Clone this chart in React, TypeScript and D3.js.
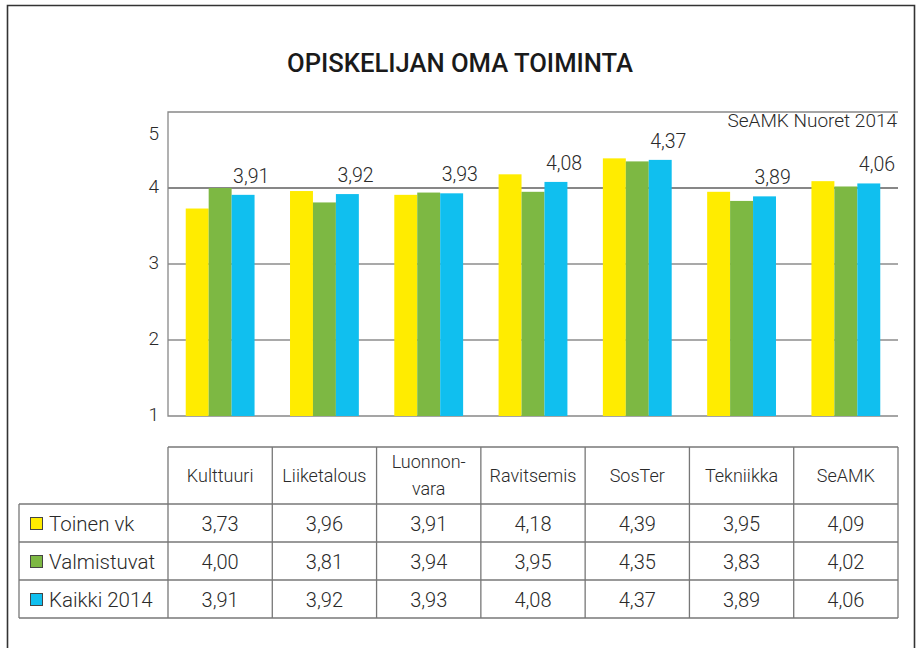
import { useRef, useEffect } from "react";
import * as d3 from "d3";

const TITLE = "OPISKELIJAN OMA TOIMINTA";
const SOURCE = "SeAMK Nuoret 2014";
const CATEGORIES = ["Kulttuuri", "Liiketalous", "Luonnon-\nvara", "Ravitsemis", "SosTer", "Tekniikka", "SeAMK"];
const SERIES = ["Toinen vk", "Valmistuvat", "Kaikki 2014"];
const TOINEN_VK = [3.73, 3.96, 3.91, 4.18, 4.39, 3.95, 4.09];
const VALMISTUVAT = [4.0, 3.81, 3.94, 3.95, 4.35, 3.83, 4.02];
const KAIKKI_2014 = [3.91, 3.92, 3.93, 4.08, 4.37, 3.89, 4.06];
const Y_TICKS = [1, 2, 3, 4, 5];

const COLORS = ["#FFEC00", "#7DB843", "#10BFEF"];
const FONT = "Roboto, 'Noto Sans', sans-serif";
const TXT = "#2a2a2a";
const W = 918;
const H = 648;

export default function App() {
  const ref = useRef<HTMLDivElement>(null);

  useEffect(() => {
    document.body.style.margin = "0";
    if (!ref.current) return;
    const container = ref.current;
    container.innerHTML = "";

    const svg = d3.select(container).append("svg")
      .attr("width", W).attr("height", H)
      .style("display", "block")
      .attr("font-family", FONT)
      .attr("font-weight", 300);

    svg.append("rect").attr("width", W).attr("height", H).attr("fill", "#fff");

    // ulkokehys
    svg.append("path")
      .attr("d", `M7.5,${H} V5.5 H914.5 V${H}`)
      .attr("fill", "none").attr("stroke", "#333").attr("stroke-width", 1.6);

    // otsikko
    svg.append("text")
      .attr("x", 287).attr("y", 72)
      .attr("textLength", 346).attr("lengthAdjust", "spacingAndGlyphs")
      .attr("font-size", "26px").attr("font-weight", 500).attr("fill", "#1a1a1a")
      .text(TITLE);

    const mg = { l: 168, r: 898, t: 112, b: 416 };
    const seriesData = [TOINEN_VK, VALMISTUVAT, KAIKKI_2014];

    const x0 = d3.scaleBand<string>().domain(CATEGORIES).range([mg.l, mg.r]);
    const bw = x0.bandwidth();
    const inset = bw * 0.17;
    const x1 = d3.scaleBand<string>().domain(SERIES).range([inset, bw - inset]);
    const y = d3.scaleLinear().domain([1, 5]).range([mg.b, mg.t]);
    const fmt = (v: number) => d3.format(".2f")(v).replace(".", ",");

    // apuviivat
    Y_TICKS.filter((t) => t > 1 && t < 5).forEach((t) => {
      svg.append("line")
        .attr("x1", mg.l).attr("x2", mg.r)
        .attr("y1", y(t)).attr("y2", y(t))
        .attr("stroke", t === 4 ? "#111" : "#555").attr("stroke-width", 1.2);
    });

    // ylä- ja vasen reuna, x-akseli
    svg.append("path")
      .attr("d", `M${mg.r},${y(5)} H${mg.l} V${y(1)} H${mg.r}`)
      .attr("fill", "none").attr("stroke", "#888").attr("stroke-width", 1.3);

    // y-akselin numerot
    Y_TICKS.forEach((t) => {
      svg.append("text")
        .attr("x", 159).attr("y", t === 5 ? y(t) + 28 : y(t) + 5)
        .attr("text-anchor", "end")
        .attr("font-size", "19px").attr("fill", TXT)
        .text(t);
    });

    // pylväät
    SERIES.forEach((s, si) => {
      svg.selectAll(`.bar-${si}`).data(seriesData[si]).join("rect")
        .attr("x", (_d, i) => x0(CATEGORIES[i])! + x1(s)!)
        .attr("width", x1.bandwidth())
        .attr("y", (d) => y(d))
        .attr("height", (d) => y(1) - y(d))
        .attr("fill", COLORS[si]);
    });

    // arvot Kaikki 2014 -pylväiden yllä
    svg.selectAll(".lbl").data(KAIKKI_2014).join("text")
      .attr("x", (_d, i) => x0(CATEGORIES[i])! + x1(SERIES[2])! + 1.5)
      .attr("y", (d) => y(d) - 12)
      .attr("font-size", "19.5px").attr("fill", TXT)
      .text((d) => fmt(d));

    svg.append("text")
      .attr("x", 897).attr("y", 127)
      .attr("text-anchor", "end")
      .attr("font-size", "19px").attr("fill", TXT)
      .text(SOURCE);

    // taulukko
    const tb = { top: 447, head: 504, rowH: 38, left: 19 };
    const tBottom = tb.head + tb.rowH * SERIES.length;
    const line = (x1_: number, y1_: number, x2_: number, y2_: number) =>
      svg.append("line")
        .attr("x1", x1_).attr("y1", y1_).attr("x2", x2_).attr("y2", y2_)
        .attr("stroke", "#777").attr("stroke-width", 1.3);

    line(mg.l, tb.top, mg.r, tb.top);
    SERIES.forEach((_s, i) => line(tb.left, tb.head + i * tb.rowH, mg.r, tb.head + i * tb.rowH));
    line(tb.left, tBottom, mg.r, tBottom);
    line(tb.left, tb.head, tb.left, tBottom);
    CATEGORIES.forEach((c) => line(x0(c)!, tb.top, x0(c)!, tBottom));
    line(mg.r, tb.top, mg.r, tBottom);

    // sarakeotsikot
    CATEGORIES.forEach((c) => {
      const parts = c.split("\n");
      const cx = x0(c)! + bw / 2;
      const cy = (tb.top + tb.head) / 2;
      parts.forEach((p, pi) => {
        svg.append("text")
          .attr("x", cx)
          .attr("y", cy + 6 + (pi - (parts.length - 1) / 2) * 27)
          .attr("text-anchor", "middle")
          .attr("font-size", "18px").attr("fill", TXT)
          .text(p);
      });
    });

    // rivit
    SERIES.forEach((s, si) => {
      const cy = tb.head + si * tb.rowH + tb.rowH / 2;
      svg.append("rect")
        .attr("x", 30.5).attr("y", cy - 5.5)
        .attr("width", 12).attr("height", 12)
        .attr("fill", COLORS[si]).attr("stroke", "#444").attr("stroke-width", 1);
      svg.append("text")
        .attr("x", 49).attr("y", cy + 7.5)
        .attr("font-size", "20.5px").attr("fill", TXT)
        .text(s);
      seriesData[si].forEach((v, i) => {
        svg.append("text")
          .attr("x", x0(CATEGORIES[i])! + bw / 2).attr("y", cy + 7.5)
          .attr("text-anchor", "middle")
          .attr("font-size", "20px").attr("fill", TXT)
          .text(fmt(v));
      });
    });
  }, []);

  return <div ref={ref} style={{ width: W, height: H }} />;
}
